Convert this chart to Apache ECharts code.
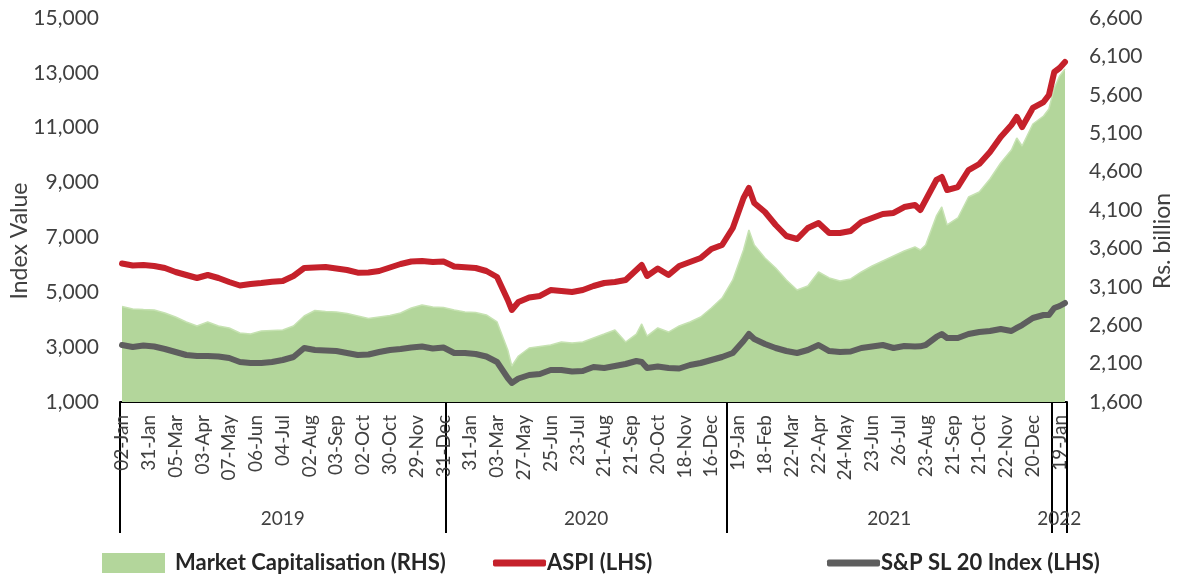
<!DOCTYPE html>
<html>
<head>
<meta charset="utf-8">
<script src="https://cdn.jsdelivr.net/npm/echarts@6/dist/echarts.min.js"></script>
<style>
html,body{margin:0;padding:0;background:#fff;}
#chart{width:1178px;height:576px;}
</style>
</head>
<body>
<div id="chart"></div>
<script>
// trading-day index of each sampled point
const days = [0,8,16,24,32,40,48,56,64,72,80,88,96,104,112,120,128,136,144,152,160,168,176,184,192,200,208,216,224,232,240,248,256,264,272,280,288,291,296,304,312,320,328,336,344,352,360,368,376,384,388,392,400,408,416,424,432,440,448,456,464,468,472,480,488,496,504,512,520,528,536,544,552,560,568,576,584,592,596,600,608,612,616,624,632,640,648,656,664,668,672,680,688,692,696,700,704];

const aspi = [6050,5977,5995,5958,5885,5740,5630,5521,5630,5521,5375,5247,5302,5339,5386,5411,5594,5885,5904,5922,5867,5812,5714,5721,5776,5904,6031,6122,6141,6104,6122,5940,5911,5885,5776,5557,4719,4354,4646,4810,4865,5083,5047,5010,5083,5229,5339,5375,5448,5812,5995,5594,5867,5630,5958,6104,6250,6578,6724,7344,8437,8802,8255,7927,7453,7052,6943,7344,7526,7161,7161,7234,7562,7708,7854,7891,8109,8182,8000,8364,9094,9203,8729,8838,9458,9677,10115,10661,11099,11391,11026,11719,11937,12193,13031,13177,13396];

const sl20 = [3078,3005,3060,3023,2932,2823,2714,2677,2677,2659,2604,2458,2422,2422,2458,2531,2641,2969,2896,2878,2859,2786,2714,2732,2823,2896,2932,2987,3023,2951,2987,2786,2786,2750,2659,2458,1875,1693,1857,1984,2021,2167,2167,2112,2130,2276,2240,2312,2385,2495,2460,2240,2294,2240,2221,2349,2422,2531,2641,2786,3224,3479,3297,3115,2969,2859,2786,2896,3078,2859,2823,2841,2969,3023,3078,2969,3042,3023,3030,3078,3370,3479,3333,3333,3479,3552,3589,3661,3589,3700,3807,4063,4172,4172,4427,4500,4609];

const mcap = [2844,2811,2804,2798,2759,2707,2642,2590,2642,2590,2564,2498,2485,2524,2531,2538,2590,2720,2791,2778,2772,2752,2720,2687,2707,2726,2759,2824,2863,2837,2830,2798,2772,2765,2733,2642,2277,2069,2199,2303,2323,2342,2381,2368,2381,2433,2485,2538,2381,2485,2616,2459,2564,2511,2590,2642,2707,2824,2954,3189,3579,3840,3644,3475,3345,3189,3058,3110,3293,3215,3176,3202,3293,3371,3436,3501,3566,3618,3579,3644,4022,4139,3905,3996,4269,4334,4504,4712,4881,5038,4933,5220,5324,5415,5689,5845,5936];

// x-axis date labels (one every 20 trading days)
const tickLabels = ['02-Jan','31-Jan','05-Mar','03-Apr','07-May','06-Jun','04-Jul','02-Aug','03-Sep','02-Oct','30-Oct','29-Nov','31-Dec','31-Jan','03-Mar','27-May','25-Jun','23-Jul','21-Aug','21-Sep','20-Oct','18-Nov','16-Dec','19-Jan','18-Feb','22-Mar','22-Apr','24-May','23-Jun','26-Jul','23-Aug','21-Sep','21-Oct','22-Nov','20-Dec','19-Jan'];
const tickDays = tickLabels.map((_, i) => i * 20);

// year groups (boundaries in trading-day index)
const years = ['2019','2020','2021','2022'];
const yearBounds = [-1.5, 241.5, 451.5, 694, 705.5];
const yearMids = years.map((_, i) => (yearBounds[i] + yearBounds[i + 1]) / 2);

const leftTicks = [1000,3000,5000,7000,9000,11000,13000,15000];
const rightTicks = [1600,2100,2600,3100,3600,4100,4600,5100,5600,6100,6600];

const FONT = 'Lato, "Open Sans", sans-serif';
const LABEL = '#404040';

const chart = echarts.init(document.getElementById('chart'));
const fmt = v => Number(v).toLocaleString('en-US');

chart.setOption({
  animation: false,
  backgroundColor: '#fff',
  textStyle: { fontFamily: FONT },
  grid: { left: 120, right: 111, top: 18, bottom: 174, containLabel: false, outerBoundsMode: 'none' },
  legend: [
    { data: ['Market Capitalisation (RHS)'], left: 97, top: 547, icon: 'rect', itemWidth: 63, itemHeight: 20,
      textStyle: { fontFamily: FONT, fontSize: 22, fontWeight: 'bold', color: '#262626', padding: [0,0,0,5] } },
    { data: ['ASPI (LHS)'], left: 488, top: 547, icon: 'roundRect', itemWidth: 53, itemHeight: 7,
      textStyle: { fontFamily: FONT, fontSize: 22, fontWeight: 'bold', color: '#262626', padding: [0,0,0,-4] } },
    { data: ['S&P SL 20 Index (LHS)'], left: 822, top: 547, icon: 'roundRect', itemWidth: 53, itemHeight: 7,
      textStyle: { fontFamily: FONT, fontSize: 22, fontWeight: 'bold', color: '#262626', padding: [0,0,0,-4] } }
  ],
  xAxis: [
    {
      type: 'value', min: -1.5, max: 705.5, position: 'bottom',
      axisLine: { show: true, lineStyle: { color: '#000', width: 2 } },
      axisTick: { show: false },
      splitLine: { show: false },
      axisLabel: {
        customValues: tickDays, rotate: 90, margin: 13, fontSize: 19, color: LABEL, fontFamily: FONT,
        formatter: v => { const i = tickDays.indexOf(Math.round(v)); return i >= 0 ? tickLabels[i] : ''; }
      }
    },
    {
      type: 'value', min: -1.5, max: 705.5, position: 'bottom', offset: 0,
      axisLine: { show: false },
      axisTick: { show: true, customValues: yearBounds, length: 131, lineStyle: { color: '#000', width: 2 } },
      splitLine: { show: false },
      axisLabel: {
        customValues: yearMids, margin: 107, fontSize: 19, color: LABEL, fontFamily: FONT,
        formatter: v => { let best = 0; yearMids.forEach((m, i) => { if (Math.abs(m - v) < Math.abs(yearMids[best] - v)) best = i; }); return years[best]; }
      }
    }
  ],
  yAxis: [
    {
      type: 'value', min: 1000, max: 15000, position: 'left',
      name: 'Index Value', nameLocation: 'middle', nameRotate: 90, nameGap: 89, nameMoveOverlap: false,
      nameTextStyle: { fontSize: 23, color: LABEL, fontFamily: FONT, padding: [0, 62, 0, 0] },
      axisLine: { show: false }, axisTick: { show: false }, splitLine: { show: false },
      axisLabel: { customValues: leftTicks, formatter: fmt, fontSize: 21, color: LABEL, margin: 21, fontFamily: FONT }
    },
    {
      type: 'value', min: 1600, max: 6600, position: 'right',
      name: 'Rs. billion', nameLocation: 'middle', nameRotate: 90, nameGap: 84, nameMoveOverlap: false,
      nameTextStyle: { fontSize: 23, color: LABEL, fontFamily: FONT, padding: [0, 62, 0, 0] },
      axisLine: { show: false }, axisTick: { show: false }, splitLine: { show: false },
      axisLabel: { customValues: rightTicks, formatter: fmt, fontSize: 21, color: LABEL, margin: 22, fontFamily: FONT }
    }
  ],
  series: [
    {
      name: 'Market Capitalisation (RHS)', type: 'line', xAxisIndex: 0, yAxisIndex: 1,
      data: days.map((d, i) => [d, mcap[i]]),
      symbol: 'none', z: 1,
      itemStyle: { color: '#b3d69b' },
      lineStyle: { color: '#c6e2b2', width: 1.5 },
      areaStyle: { color: '#b3d69b', opacity: 1, origin: 'start' }
    },
    {
      name: 'ASPI (LHS)', type: 'line', xAxisIndex: 0, yAxisIndex: 0,
      data: days.map((d, i) => [d, aspi[i]]),
      symbol: 'none', z: 3,
      itemStyle: { color: '#c5212b' },
      lineStyle: { color: '#c5212b', width: 6, cap: 'round', join: 'round' }
    },
    {
      name: 'S&P SL 20 Index (LHS)', type: 'line', xAxisIndex: 0, yAxisIndex: 0,
      data: days.map((d, i) => [d, sl20[i]]),
      symbol: 'none', z: 2,
      itemStyle: { color: '#5e5e5e' },
      lineStyle: { color: '#5e5e5e', width: 6, cap: 'round', join: 'round' }
    }
  ]
});
</script>
</body>
</html>
